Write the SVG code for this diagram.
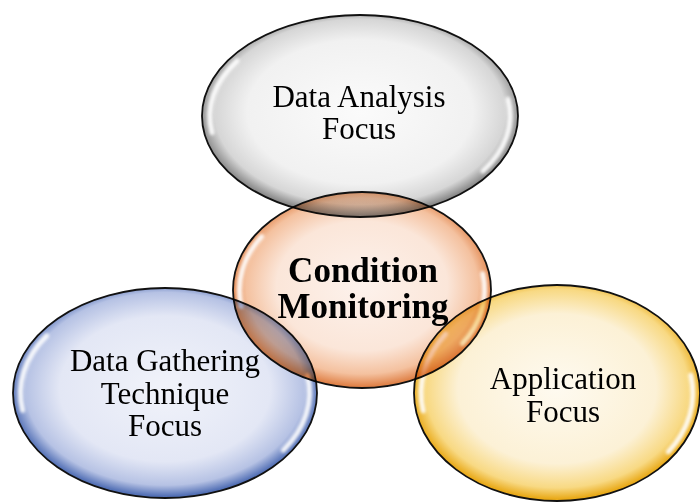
<svg xmlns="http://www.w3.org/2000/svg" width="700" height="502" viewBox="0 0 700 502">
  <defs>
    <radialGradient id="gGray" cx="50%" cy="48%" r="51%">
      <stop offset="0" stop-color="#fbfbfb"/>
      <stop offset="0.7" stop-color="#f1f1f1"/>
      <stop offset="0.9" stop-color="#d6d6d6"/>
      <stop offset="1" stop-color="#8a8a8a"/>
    </radialGradient>
    <radialGradient id="gOrange" cx="50%" cy="48%" r="51%">
      <stop offset="0" stop-color="#fdf2ec"/>
      <stop offset="0.65" stop-color="#fbe6d9"/>
      <stop offset="0.88" stop-color="#f4c19f"/>
      <stop offset="1" stop-color="#e0834a"/>
    </radialGradient>
    <radialGradient id="gBlue" cx="50%" cy="48%" r="51%">
      <stop offset="0" stop-color="#f1f3fa"/>
      <stop offset="0.68" stop-color="#e3e7f5"/>
      <stop offset="0.9" stop-color="#b6c2e4"/>
      <stop offset="1" stop-color="#5471b6"/>
    </radialGradient>
    <radialGradient id="gYellow" cx="50%" cy="48%" r="51%">
      <stop offset="0" stop-color="#fefaf0"/>
      <stop offset="0.68" stop-color="#fcf1d6"/>
      <stop offset="0.9" stop-color="#f8d983"/>
      <stop offset="1" stop-color="#e9aa1a"/>
    </radialGradient>
    <filter id="soft" x="-20%" y="-20%" width="140%" height="140%">
      <feGaussianBlur stdDeviation="1.8"/>
    </filter>
  </defs>
  <style>
    .shape { stroke: #111; stroke-width: 1.8; }
    .glass { mix-blend-mode: multiply; }
    .hl { fill: none; stroke: #fff; stroke-width: 5; stroke-linecap: round; opacity: 0.9; filter: url(#soft); }
    .lbl { font-family: "Liberation Serif", "Times New Roman", serif; font-size: 31px; fill: #000; text-anchor: middle; }
    .core { font-weight: bold; font-size: 35px; }
  </style>

  <!-- central node -->
  <g id="condition-monitoring">
    <ellipse class="shape" cx="362" cy="290" rx="129" ry="98" fill="url(#gOrange)"/>
    <path class="hl" d="M261.6,236.6 A122.6,93.1 0 0 0 241.3,306.2"/>
    <path class="hl" d="M462.4,343.4 A122.6,93.1 0 0 0 482.7,273.8"/>
  </g>

  <!-- outer nodes, blended over the centre -->
  <g id="data-analysis" class="glass">
    <ellipse class="shape" cx="360" cy="116" rx="158" ry="101" fill="url(#gGray)"/>
    <path class="hl" d="M237.1,61 A150.1,96 0 0 0 212.1,132.7"/>
    <path class="hl" d="M482.9,171 A150.1,96 0 0 0 507.9,99.3"/>
  </g>

  <g id="data-gathering" class="glass">
    <ellipse class="shape" cx="165" cy="393" rx="152" ry="105" fill="url(#gBlue)"/>
    <path class="hl" d="M46.7,335.8 A144.4,99.8 0 0 0 22.7,410.3"/>
    <path class="hl" d="M283.3,450.2 A144.4,99.8 0 0 0 307.3,375.7"/>
  </g>

  <g id="application" class="glass">
    <ellipse class="shape" cx="557" cy="393" rx="143" ry="108" fill="url(#gYellow)"/>
    <path class="hl" d="M445.7,334.1 A135.9,102.6 0 0 0 423.2,410.8"/>
    <path class="hl" d="M668.3,451.9 A135.9,102.6 0 0 0 690.8,375.2"/>
  </g>

  <!-- labels -->
  <g id="labels">
    <text class="lbl" x="359" y="107">Data Analysis</text>
    <text class="lbl" x="359" y="139">Focus</text>
    <text class="lbl core" x="363" y="282">Condition</text>
    <text class="lbl core" x="363" y="318">Monitoring</text>
    <text class="lbl" x="165" y="371">Data Gathering</text>
    <text class="lbl" x="165" y="404">Technique</text>
    <text class="lbl" x="165" y="436">Focus</text>
    <text class="lbl" x="563" y="389">Application</text>
    <text class="lbl" x="563" y="422">Focus</text>
  </g>

  <g id="connectors"></g>
</svg>
